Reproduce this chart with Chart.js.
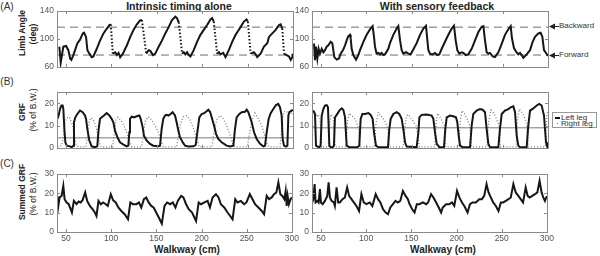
<!DOCTYPE html>
<html>
<head>
<meta charset="utf-8">
<script src="https://cdn.jsdelivr.net/npm/chart.js@4/dist/chart.umd.min.js"></script>
<style>
  body { margin: 0; background: #fff; }
  #fig { position: relative; width: 600px; height: 256px; overflow: hidden; background: #fff;
         font-family: "Liberation Sans", Arial, Helvetica, sans-serif; color: #222; }
  #fig canvas { position: absolute; }
  .t { position: absolute; white-space: nowrap; transform: translate(-50%, -50%); line-height: 1; }
  .r { transform: translate(-50%, -50%) rotate(-90deg); }
  .b { font-weight: bold; }
  .note { position: absolute; white-space: nowrap; font-size: 8px; line-height: 1; color: #333; transform: translateY(-50%); }
  .arrow { position: absolute; }
  #legend { position: absolute; left: 552px; top: 112px; width: 45px; height: 16px; border: 1px solid #999; box-sizing: border-box; }
</style>
</head>
<body>
<div id="fig">
  <div class="t" style="left:7px;top:7px;font-size:10px;color:#333">(A)</div>
  <div class="t" style="left:7px;top:82px;font-size:10px;color:#333">(B)</div>
  <div class="t" style="left:7px;top:164px;font-size:10px;color:#333">(C)</div>

  <div class="t b" style="left:179px;top:6px;font-size:10.5px">Intrinsic timing alone</div>
  <div class="t b" style="left:437px;top:6px;font-size:10.5px">With sensory feedback</div>

  <div class="t r b" style="left:22px;top:33px;font-size:8.5px">Limb Angle</div>
  <div class="t r b" style="left:33px;top:34px;font-size:8.5px">(deg)</div>
  <div class="t r b" style="left:22px;top:112px;font-size:8.5px">GRF</div>
  <div class="t r" style="left:33px;top:110px;font-size:8.5px">(% of B.W.)</div>
  <div class="t r b" style="left:22px;top:192px;font-size:8.5px">Summed GRF</div>
  <div class="t r" style="left:33px;top:194px;font-size:8.5px">(% of B.W.)</div>

  <div class="t b" style="left:187px;top:250px;font-size:10px">Walkway (cm)</div>
  <div class="t b" style="left:443px;top:250px;font-size:10px">Walkway (cm)</div>

  <svg class="arrow" style="left:549px;top:23px" width="10" height="7"><polygon points="0,3.5 6,0.5 6,6.5" fill="#222"/><line x1="5" y1="3.5" x2="10" y2="3.5" stroke="#222" stroke-width="1"/></svg>
  <div class="note" style="left:559px;top:26px">Backward</div>
  <svg class="arrow" style="left:549px;top:52px" width="10" height="7"><polygon points="0,3.5 6,0.5 6,6.5" fill="#222"/><line x1="5" y1="3.5" x2="10" y2="3.5" stroke="#222" stroke-width="1"/></svg>
  <div class="note" style="left:559px;top:55px">Forward</div>

  <div id="legend">
    <div style="position:absolute;left:2px;top:4px;width:5px;height:2px;background:#111"></div>
    <div class="note" style="left:8px;top:5px">Left leg</div>
    <div style="position:absolute;left:4px;top:10px;width:1px;height:1px;background:#777"></div>
    <div class="note" style="left:8px;top:11px">Right leg</div>
  </div>
</div>

<script>
// ---- data ----
const xTicks = [50, 100, 150, 200, 250, 300]
const angleTicks = [60, 100, 140]
const grfTicks = [0, 10, 20]
const sumTicks = [0, 10, 20, 30]

const backwardAngle = 117
const forwardAngle = 77
const grfLineIntrinsic = 4.5
const grfLineFeedback = 9

// (A) limb angle, intrinsic timing alone
const angleIntrX = [42.6,44.1,47.0,50.0,52.5,54.4,55.8,58.0,59.9,62.5,65.4,68.4,69.8,72.0,73.5,75.7,78.3,80.1,83.8,87.5,
  91.2,94.9,97.8,99.3,101.5,104.1,105.9,107.8,109.6,112.6,117.0,120.7,124.3,128.0,131.7,133.6,138.3,140.9,142.8,145.7,
  148.3,152.0,155.7,159.3,163.0,166.7,170.4,172.2,174.1,177.8,179.6,181.4,183.3,185.1,187.0,190.6,194.3,198.0,201.7,205.4,
  209.1,210.9,212.7,216.4,218.3,220.1,223.1,225.6,229.3,233.0,236.7,239.3,242.2,245.9,248.8,250.3,253.3,256.9,258.8,260.6,
  264.3,268.0,271.7,273.5,277.2,280.9,284.6,286.4,288.2,290.1,293.0,295.6,297.5,299.3,300]
const angleIntrY = [89,66,89,90,84,72,70,77,84,94,99,108,109,103,84,79,74,75,86,98,
  108,115,120,121,79,81,77,80,74,79,91,103,113,121,127,127,79,84,83,77,
  79,89,98,108,117,127,132,130,124,79,81,78,81,77,75,84,96,106,113,120,
  128,130,125,79,81,78,80,74,84,96,106,111,117,125,128,125,79,81,78,74,
  79,89,94,103,108,113,120,121,115,79,77,75,70,74,79]

// (A) limb angle, with sensory feedback
const angleFbX = [42.2,43.3,44.4,45.9,47.3,48.8,50.7,52.5,54.3,56.2,58.0,60.6,62.4,63.5,64.6,67.2,69.7,71.6,74.5,76.4,
  78.2,80.0,81.9,82.6,83.7,85.5,88.5,91.0,92.9,96.6,100.2,103.9,106.8,108.3,109.4,111.2,113.1,114.9,116.7,118.6,
  120.4,124.1,125.9,129.6,133.3,135.1,137.0,138.8,140.6,143.6,146.1,148.7,151.6,155.3,159.0,162.7,165.6,167.1,168.2,170.0,
  172.9,175.5,178.1,180.3,182.9,186.5,190.2,193.9,196.4,198.3,200.1,202.3,204.9,206.7,209.3,212.2,215.9,219.6,223.3,226.9,
  228.8,230.6,232.4,234.3,236.1,239.1,241.6,245.3,249.0,252.6,256.3,258.9,260.3,262.5,264.8,267.3,269.2,271.0,272.8,276.5,
  280.2,283.1,285.7,289.4,291.9,293.8,295.6,297.8,299.3,300]
const angleFbY = [93.5,69.6,89,72,86,79,86,81,84,89,91,96,94,84,74,70.5,72,79,85,91,
  98,104,106,101,86,77,70.5,77,84,96,106,114,118.5,103,89,79,80,78,80,77,
  78,86,94,106,115,118.5,98,84,79,81,79,78,85,94,106,115,119,98,84,79,
  78,80,77,78,86,96,106,115,119,98,84,79,81,80,77,78,86,98,110,117.5,
  118.5,98,81,79,80,75,74,81,93,106,114,118.5,101,87,82,78,80,77,73,78,
  84,96,103,108,109,103,84,80,77,76]

// (B) GRF, intrinsic timing alone
const grfIntrLeftX = [40.4,41.8,43.3,44.8,46.2,47.0,48.1,49.2,50.7,54.3,56.2,58.0,58.7,60.2,62.4,65.3,68.3,70.8,72.0,73.4,
  75.6,78.2,81.9,84.4,85.9,87.4,89.2,91.8,94.7,97.7,100.2,102.1,103.9,106.5,109.4,113.8,116.8,118.6,119.7,120.4,
  122.3,124.8,127.8,130.7,132.2,134.4,135.8,138.8,142.5,146.1,151.6,153.5,155.3,157.1,159.0,160.8,162.7,165.2,167.4,170.0,
  171.8,173.7,175.5,178.5,181.0,184.7,190.2,192.8,194.6,196.8,199.4,202.0,204.2,206.7,208.6,210.4,213.0,215.2,217.7,221.4,
  226.9,230.6,234.3,236.1,237.9,240.9,243.5,247.1,249.0,250.8,254.5,257.1,260.0,263.7,267.3,269.2,271.0,273.2,275.4,278.3,
  281.3,283.8,285.7,287.5,288.6,290.1,292.3,293.8,294.9,296.0,298.5,300]
const grfIntrLeftY = [13,14.5,17.4,19,19,17.4,8.5,2.5,1,0.7,0.3,1,11.5,13.7,15.2,16.7,16,14.5,13,8.5,
  3.3,0.7,0.3,0.7,8.5,13,13.7,14.5,15.6,14.5,13,11.5,7.7,4.8,2.5,1.3,0.7,1,7,13,
  14,13.7,14.2,14.5,13,9.2,5.5,3.3,1.8,1,0.7,1,8.5,13,14.5,14.8,14.5,15.2,16,14.5,
  11.5,7.7,4.8,2.5,1,0.6,0.7,1.3,7,13.7,15.2,15.6,16.2,17.1,16.2,13.7,10,6.3,4,2.5,
  1,0.6,1,8.5,13.7,15.2,16,16.2,17.1,16,11.5,7,4,1.8,0.7,1,7,13,15.6,17.4,
  19.2,19.7,18.2,14.5,4,1,0.6,1,14.5,16,16.7,17.1]
const grfIntrRightX = [40.4,45.1,47.0,48.8,50.7,53.6,55.4,57.3,59.1,61.0,63.5,72.0,73.8,75.6,77.5,80.0,83.0,85.5,87.4,89.2,
  101.3,103.2,105.0,106.8,110.1,113.8,117.5,120.4,122.6,133.3,135.1,137.3,140.6,144.3,148.0,151.6,154.6,157.1,
  171.8,173.7,176.2,179.2,182.9,186.5,190.2,193.9,196.8,210.8,213.0,215.9,219.6,223.3,226.9,230.6,233.5,236.1,
  249.7,251.9,254.5,258.2,261.9,265.5,269.2,271.8,274.0,285.7,287.5,289.4,292.3,294.9,297.5,300]
const grfIntrRightY = [0.6,1,5,11,13.5,13.8,12,10,6,1.5,0.5,0.5,6,12,13.5,12.5,9.5,5,1,0.3,
  0.5,7,12.5,13.7,12.5,10,6,2,0.5,0.5,6,12,14,12.5,10,7,3,0.5,
  0.5,5,11,14,14.5,12.5,9,4,0.5,0.5,7,12.5,14.5,13,10,6,2,0.5,
  0.5,6,12,15.6,13,10,5,1,0.5,0.5,8,16,16.5,15.5,15,16]

// (B) GRF, with sensory feedback
const grfFbLeftX = [40.4,42.2,43.3,44.4,45.9,48.1,49.5,50.7,52.5,54.3,56.2,57.6,59.1,60.6,62.8,64.2,65.3,67.2,70.1,72.7,
  74.5,76.4,78.2,81.1,89.9,92.1,93.6,95.5,98.4,102.1,104.6,106.8,108.3,110.5,113.1,123.7,125.2,126.7,129.6,133.3,
  136.2,138.8,140.6,142.5,144.3,155.3,157.2,158.3,160.8,166.3,171.8,173.7,175.5,177.4,180.3,185.4,186.9,188.4,192.0,195.7,
  198.6,200.1,201.6,203.1,206.0,214.1,215.9,217.7,221.4,225.1,228.0,230.6,232.4,234.3,236.1,245.3,247.1,249.0,252.6,256.3,
  258.9,261.8,263.7,265.5,267.3,269.2,276.5,278.3,280.2,283.8,287.5,290.4,293.0,295.6,297.8,299.3,300]
const grfFbLeftY = [16.7,16.2,15.2,1,0.6,0.3,1,14.5,17.4,19,19.2,18.2,1,0.3,0.3,1,13.7,14.8,16.7,17.7,
  17.1,13.7,1,0.3,0.3,1,13,15.2,15.2,15.6,14.8,13,7,1,0.3,0.3,8.5,13,15.2,16,
  15.2,13,8.5,2.5,0.6,0.3,7,13.7,14.8,15,14.5,13,7,1.8,0.3,0.3,8.5,13.7,14.5,14.2,
  13.7,11.5,5.5,1,0.3,0.3,10,15.2,16.7,17.4,17.1,16,8.5,1.8,0.3,0.3,8.5,15.2,16.7,17.4,
  18.2,18.6,16,5.5,1,0.3,0.3,10,16.7,17.7,19,19.7,19,14.5,2.5,0.3,2.5]
const grfFbRightX = [40.4,42.2,43.6,45.1,47.0,48.8,49.9,50.7,58.4,59.5,60.6,62.1,63.5,64.6,65.7,
  77.5,79.0,81.1,83.7,86.3,89.2,91.4,92.9,109.0,110.5,113.1,115.7,118.6,121.5,123.7,125.2,
  140.6,142.5,144.3,146.1,148.7,151.6,154.6,156.8,158.3,175.2,176.7,178.5,180.7,183.3,185.9,187.3,
  201.6,203.4,205.2,207.8,210.8,213.7,215.9,232.8,234.7,237.3,240.2,243.2,246.1,247.6,
  264.8,266.2,268.4,271.0,273.6,276.5,278.3,297.1,298.5,300]
const grfFbRightY = [15,14.5,15.5,14,15,13,8,0.5,0.5,10,15,14.5,13.5,5,0.5,
  0.5,12,15.5,14.5,13.5,11.5,8,0.5,0.5,11,16,14.5,13,11,8,0.5,
  0.5,10,14.5,15,13.5,12,10,5,0.5,0.5,11,15.5,14,12,10,0.5,
  0.5,12,16.7,15.5,13,10,0.5,0.5,12,17,15.5,13,10,0.5,
  0.5,12,17.4,16,14,11,0.5,0.5,14,17]

// (C) summed GRF
const sumIntrX = [40.4,41.5,42.9,45.1,47.0,48.4,50.7,52.9,55.1,56.5,58.7,61.7,63.9,66.1,68.3,71.2,73.4,76.4,79.3,81.9,
  83.7,85.9,88.5,91.0,94.0,96.2,99.5,102.1,105.0,107.9,111.2,114.9,118.6,121.2,124.1,127.8,130.7,133.3,136.2,138.8,
  141.4,144.3,146.9,149.8,152.7,156.0,159.0,161.9,165.2,168.2,171.1,173.7,177.4,179.9,182.9,185.8,189.5,193.9,196.8,199.4,
  203.1,206.7,209.3,212.2,215.9,218.8,221.4,225.1,228.8,231.7,234.3,237.3,239.8,243.5,247.1,249.7,253.4,256.4,259.2,262.9,
  266.6,269.2,272.1,274.7,277.6,280.2,282.8,285.0,287.2,289.4,291.6,293.1,294.2,295.3,296.7,298.5,300]
const sumIntrY = [18.7,13.5,17.9,18.7,23.9,17.0,15.3,14.4,11.8,10.1,16.1,14.4,15.8,15.3,16.5,20.5,16.1,13.5,11.8,10.1,
  8.3,16.1,14.4,15.3,14.4,13.5,19.6,16.5,15.3,12.7,10.9,9.2,6.6,15.3,14.4,14.4,15.3,12.7,17.0,17.9,
  15.3,13.5,12.7,10.1,7.5,4.3,13.5,15.3,14.4,15.3,12.7,16.1,18.7,17.9,14.4,11.8,10.1,5.7,15.3,14.4,
  15.3,16.1,12.7,17.9,19.6,17.9,14.4,12.7,10.1,8.3,6.6,17.0,15.3,16.1,14.4,15.3,19.6,17.0,14.4,12.7,
  10.9,9.2,18.7,17.0,17.9,19.6,20.5,25.7,19.6,18.7,17.0,21.3,13.5,18.7,14.4,17.0,17.9]
const sumFbX = [40.4,41.5,42.9,44.0,45.9,47.3,48.8,49.9,51.8,54.3,56.9,58.4,59.8,61.7,64.2,65.3,67.2,69.0,70.8,73.8,
  76.4,78.9,81.1,83.7,86.3,89.2,92.1,94.7,97.3,100.2,103.9,106.8,110.5,113.1,115.7,118.6,121.5,124.1,126.7,129.6,
  132.5,135.1,137.7,140.6,143.6,146.1,148.0,150.9,153.5,156.0,159.0,162.7,166.3,168.5,171.8,174.4,177.4,180.3,182.9,184.7,
  188.4,192.0,195.0,197.5,200.5,203.1,206.0,208.6,212.2,214.8,217.7,221.4,225.1,228.0,230.6,233.2,235.4,237.9,240.5,243.5,
  246.4,249.0,251.5,254.5,257.4,260.0,262.9,265.5,268.4,271.0,273.6,276.5,278.7,280.9,283.8,286.8,289.4,291.9,294.1,296.0,
  297.8,299.3,300]
const sumFbY = [15.3,17.0,24.8,15.3,16.1,15.3,22.2,15.3,14.4,16.1,18.7,25.7,17.9,16.1,15.3,13.5,23.1,15.3,15.3,17.0,
  17.9,23.1,18.7,17.0,15.3,13.5,10.9,19.6,15.3,14.4,15.3,13.5,19.6,17.0,15.3,11.8,10.1,9.2,12.7,14.4,
  16.1,15.3,16.1,21.3,18.7,17.0,14.4,11.8,10.1,14.4,14.4,15.3,14.4,15.3,19.6,17.9,15.3,12.7,10.1,12.7,
  14.4,14.4,15.3,13.5,21.3,17.9,15.3,13.5,10.1,14.4,15.3,15.3,17.0,17.0,18.7,24.8,20.5,17.9,15.3,13.5,
  10.9,15.3,15.3,16.1,17.0,17.9,24.8,20.5,18.7,17.0,15.3,23.1,18.7,17.9,18.7,19.6,20.5,26.5,20.5,17.9,
  16.1,17.9,18.7]

// ---- drawing ----
const xMin = 40, xMax = 300
const fig = document.getElementById('fig')
const colLeft = [57, 312], colRight = [293, 548]
const rowTop = [11, 92, 174], rowBottom = [67, 148, 232]

const pts = (xs, ys) => xs.map((x, i) => ({ x, y: ys[i] }))
const flat = (v) => [{ x: xMin, y: v }, { x: xMax, y: v }]

// box round the plot and inward tick marks, like the original axes
const framePlugin = {
  id: 'frame',
  afterDatasetsDraw(chart, args, opts) {
    const { ctx, chartArea: a, scales: { x, y } } = chart
    ctx.save()
    ctx.strokeStyle = '#8a8a8a'
    ctx.lineWidth = 1
    ctx.beginPath()
    opts.xTicks.forEach(v => {
      const p = Math.round(x.getPixelForValue(v)) + 0.5
      ctx.moveTo(p, a.bottom); ctx.lineTo(p, a.bottom - 3)
      ctx.moveTo(p, a.top); ctx.lineTo(p, a.top + 3)
    })
    opts.yTicks.forEach(v => {
      const p = Math.round(y.getPixelForValue(v)) + 0.5
      ctx.moveTo(a.left, p); ctx.lineTo(a.left + 3, p)
      ctx.moveTo(a.right, p); ctx.lineTo(a.right - 3, p)
    })
    ctx.stroke()
    ctx.strokeRect(Math.round(a.left) + 0.5, Math.round(a.top) + 0.5, Math.round(a.right - a.left), Math.round(a.bottom - a.top))
    ctx.restore()
  }
}

const makePanel = (col, row, yMin, yMax, yTicks, datasets) => {
  const L = colLeft[col], R = colRight[col], T = rowTop[row], B = rowBottom[row]
  const showX = row === 2
  const canvas = document.createElement('canvas')
  const w = R - L + 48, h = B - T + 8 + (showX ? 20 : 8)
  canvas.width = w; canvas.height = h
  canvas.style.left = (L - 40) + 'px'
  canvas.style.top = (T - 8) + 'px'
  canvas.style.width = w + 'px'; canvas.style.height = h + 'px'
  fig.appendChild(canvas)

  const tickFont = { family: '"Liberation Sans", Arial, sans-serif', size: 8.5 }
  return new Chart(canvas, {
    type: 'line',
    data: { datasets },
    plugins: [framePlugin],
    options: {
      responsive: false,
      animation: false,
      events: [],
      layout: { autoPadding: false, padding: { top: 8, right: 8, left: 0, bottom: showX ? 0 : 8 } },
      elements: { point: { radius: 0 }, line: { tension: 0 } },
      scales: {
        x: {
          type: 'linear', min: xMin, max: xMax, display: showX,
          grid: { display: false, drawTicks: false }, border: { display: false },
          afterBuildTicks: s => { s.ticks = xTicks.map(v => ({ value: v })) },
          afterFit: s => { s.height = showX ? 20 : 0 },
          ticks: { font: tickFont, color: '#555', padding: 2, maxRotation: 0, autoSkip: false }
        },
        y: {
          type: 'linear', min: yMin, max: yMax,
          grid: { display: false, drawTicks: false }, border: { display: false },
          afterBuildTicks: s => { s.ticks = yTicks.map(v => ({ value: v })) },
          afterFit: s => { s.width = 40 },
          ticks: { font: tickFont, color: '#555', padding: 3 }
        }
      },
      plugins: { legend: { display: false }, tooltip: { enabled: false }, frame: { xTicks, yTicks } }
    }
  })
}

const mainLine = (data, extra) => Object.assign({ data, borderColor: '#161616', borderWidth: 2, order: 0 }, extra || {})
const dashed = (v) => ({ data: flat(v), borderColor: '#6e6e6e', borderWidth: 1, borderDash: [8, 5], order: 3 })
const solidRef = (v) => ({ data: flat(v), borderColor: '#7a7a7a', borderWidth: 1, order: 3 })
const dotted = (data) => ({ data, borderColor: '#7d7d7d', borderWidth: 1.3, borderDash: [1, 2], order: 1 })

// fast swing phases show up as a dotted trace in the left panel
const swingDots = { segment: { borderDash: c => (c.p0.parsed.y - c.p1.parsed.y > 30 ? [1.5, 2] : undefined) } }

makePanel(0, 0, 60, 140, angleTicks, [
  mainLine(pts(angleIntrX, angleIntrY), swingDots), dashed(backwardAngle), dashed(forwardAngle)
])
makePanel(1, 0, 60, 140, angleTicks, [
  mainLine(pts(angleFbX, angleFbY)), dashed(backwardAngle), dashed(forwardAngle)
])
makePanel(0, 1, 0, 25, grfTicks, [
  mainLine(pts(grfIntrLeftX, grfIntrLeftY)), dotted(pts(grfIntrRightX, grfIntrRightY)), solidRef(grfLineIntrinsic)
])
makePanel(1, 1, 0, 25, grfTicks, [
  mainLine(pts(grfFbLeftX, grfFbLeftY)), dotted(pts(grfFbRightX, grfFbRightY)), solidRef(grfLineFeedback)
])
makePanel(0, 2, 0, 30, sumTicks, [ mainLine(pts(sumIntrX, sumIntrY)) ])
makePanel(1, 2, 0, 30, sumTicks, [ mainLine(pts(sumFbX, sumFbY)) ])
</script>
</body>
</html>
